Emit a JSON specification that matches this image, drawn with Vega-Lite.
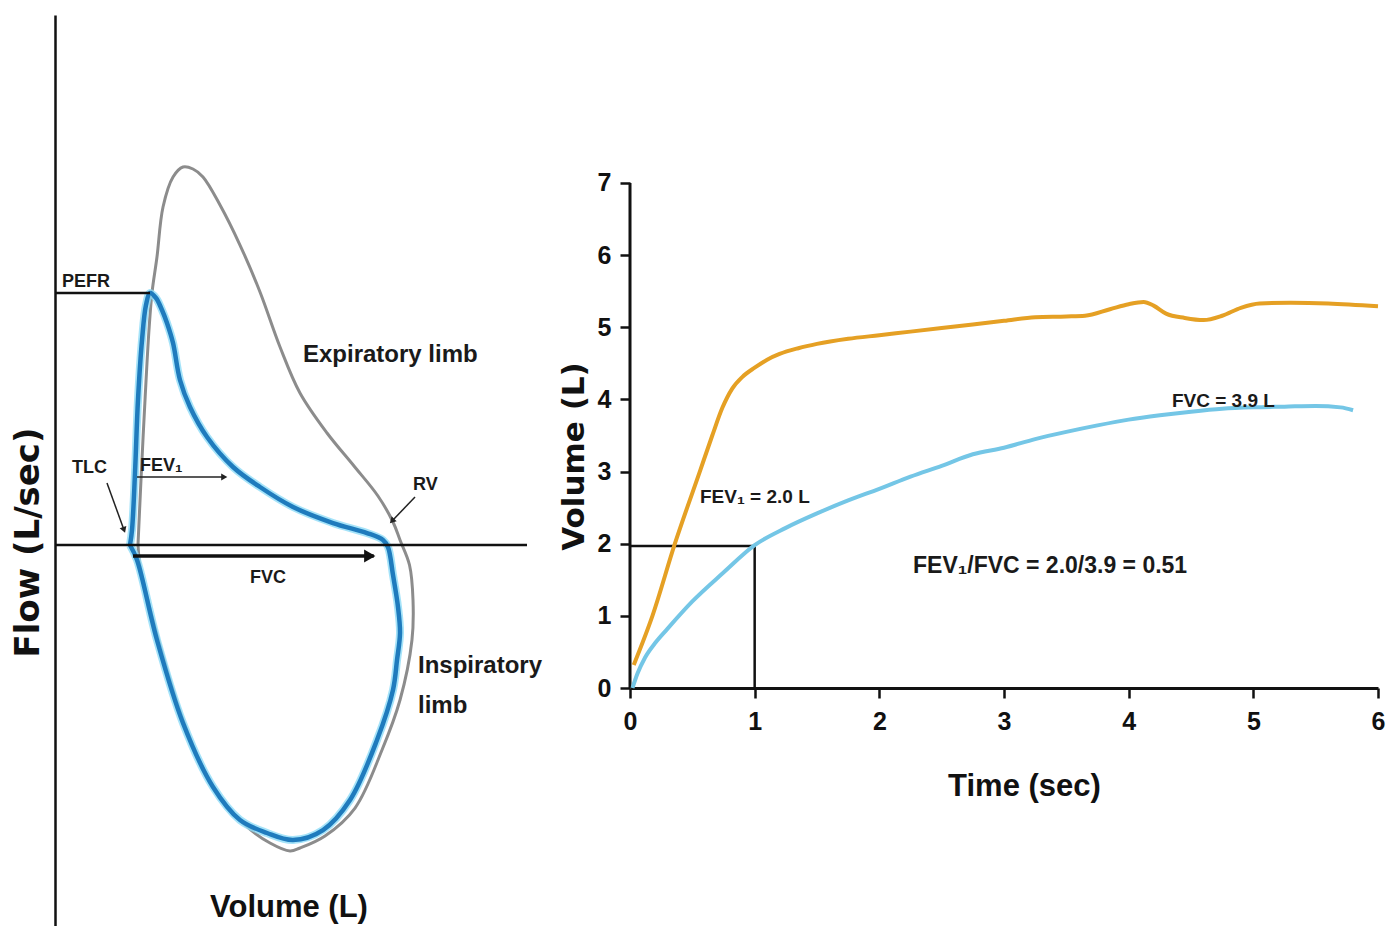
{
  "$schema": "https://vega.github.io/schema/vega-lite/v6.json",
  "background": "white",
  "padding": {"left": 0, "top": 15, "right": 0, "bottom": 0},
  "bounds": "flush",
  "spacing": 103,
  "config": {"view": {"stroke": null}},
  "datasets": {
    "loopNormal": [
      {"i": 1, "vol": 0.123, "flow": 0},
      {"i": 2, "vol": 0.169, "flow": 1.806},
      {"i": 3, "vol": 0.231, "flow": 4.028},
      {"i": 4, "vol": 0.292, "flow": 5.972},
      {"i": 5, "vol": 0.338, "flow": 7.0},
      {"i": 6, "vol": 0.415, "flow": 8.0},
      {"i": 7, "vol": 0.508, "flow": 9.389},
      {"i": 8, "vol": 0.662, "flow": 10.222},
      {"i": 9, "vol": 0.815, "flow": 10.5},
      {"i": 10, "vol": 0.969, "flow": 10.444},
      {"i": 11, "vol": 1.123, "flow": 10.222},
      {"i": 12, "vol": 1.385, "flow": 9.444},
      {"i": 13, "vol": 1.692, "flow": 8.333},
      {"i": 14, "vol": 2.0, "flow": 7.028},
      {"i": 15, "vol": 2.308, "flow": 5.5},
      {"i": 16, "vol": 2.615, "flow": 4.222},
      {"i": 17, "vol": 3.031, "flow": 3.111},
      {"i": 18, "vol": 3.446, "flow": 2.194},
      {"i": 19, "vol": 3.815, "flow": 1.361},
      {"i": 20, "vol": 4.046, "flow": 0.639},
      {"i": 21, "vol": 4.154, "flow": 0.139},
      {"i": 22, "vol": 4.3, "flow": -0.556},
      {"i": 23, "vol": 4.354, "flow": -1.528},
      {"i": 24, "vol": 4.338, "flow": -2.639},
      {"i": 25, "vol": 4.154, "flow": -4.306},
      {"i": 26, "vol": 3.877, "flow": -5.694},
      {"i": 27, "vol": 3.462, "flow": -7.306},
      {"i": 28, "vol": 3.0, "flow": -8.083},
      {"i": 29, "vol": 2.615, "flow": -8.417},
      {"i": 30, "vol": 2.462, "flow": -8.5},
      {"i": 31, "vol": 2.154, "flow": -8.278},
      {"i": 32, "vol": 1.769, "flow": -7.778},
      {"i": 33, "vol": 1.308, "flow": -6.806},
      {"i": 34, "vol": 0.846, "flow": -5.0},
      {"i": 35, "vol": 0.462, "flow": -2.778},
      {"i": 36, "vol": 0.154, "flow": -0.556},
      {"i": 37, "vol": 0.123, "flow": 0}
    ],
    "loopObstructed": [
      {"i": 1, "vol": 0, "flow": 0},
      {"i": 2, "vol": 0.031, "flow": 0.417},
      {"i": 3, "vol": 0.077, "flow": 2.0},
      {"i": 4, "vol": 0.123, "flow": 4.028},
      {"i": 5, "vol": 0.185, "flow": 5.694},
      {"i": 6, "vol": 0.246, "flow": 6.667},
      {"i": 7, "vol": 0.308, "flow": 7.0},
      {"i": 8, "vol": 0.4, "flow": 6.861},
      {"i": 9, "vol": 0.492, "flow": 6.528},
      {"i": 10, "vol": 0.569, "flow": 6.167},
      {"i": 11, "vol": 0.662, "flow": 5.611},
      {"i": 12, "vol": 0.769, "flow": 4.583},
      {"i": 13, "vol": 0.923, "flow": 3.833},
      {"i": 14, "vol": 1.185, "flow": 3.0},
      {"i": 15, "vol": 1.585, "flow": 2.167},
      {"i": 16, "vol": 2.0, "flow": 1.611},
      {"i": 17, "vol": 2.508, "flow": 1.056},
      {"i": 18, "vol": 3.123, "flow": 0.611},
      {"i": 19, "vol": 3.646, "flow": 0.333},
      {"i": 20, "vol": 3.892, "flow": 0.139},
      {"i": 21, "vol": 3.969, "flow": -0.056},
      {"i": 22, "vol": 4.046, "flow": -0.833},
      {"i": 23, "vol": 4.123, "flow": -1.722},
      {"i": 24, "vol": 4.154, "flow": -2.444},
      {"i": 25, "vol": 4.108, "flow": -3.194},
      {"i": 26, "vol": 4.046, "flow": -4.028},
      {"i": 27, "vol": 3.8, "flow": -5.417},
      {"i": 28, "vol": 3.385, "flow": -7.083},
      {"i": 29, "vol": 2.969, "flow": -7.917},
      {"i": 30, "vol": 2.508, "flow": -8.194},
      {"i": 31, "vol": 2.108, "flow": -8.0},
      {"i": 32, "vol": 1.692, "flow": -7.639},
      {"i": 33, "vol": 1.277, "flow": -6.722},
      {"i": 34, "vol": 0.815, "flow": -4.944},
      {"i": 35, "vol": 0.415, "flow": -2.639},
      {"i": 36, "vol": 0.108, "flow": -0.417},
      {"i": 37, "vol": 0, "flow": 0}
    ],
    "thickLines": [
      {"what": "zero flow", "vol": -1.1538, "flow": 0, "vol2": 6.1077, "flow2": 0},
      {"what": "PEFR", "vol": -1.1538, "flow": 7.0, "vol2": 0.308, "flow2": 7.0}
    ],
    "thinArrows": [
      {"what": "TLC", "vol": -0.354, "flow": 1.722, "vol2": -0.092, "flow2": 0.417},
      {"what": "FEV1", "vol": 0.108, "flow": 1.889, "vol2": 1.45, "flow2": 1.889},
      {"what": "RV", "vol": 4.385, "flow": 1.333, "vol2": 4.031, "flow2": 0.667}
    ],
    "fvcArrow": [
      {"what": "FVC", "vol": 0.046, "flow": -0.306, "vol2": 3.75, "flow2": -0.306}
    ],
    "textsSmallA": [
      {"label": "PEFR", "vol": -1.0462, "flow": 7.1667},
      {"label": "TLC", "vol": -0.8923, "flow": 2.0},
      {"label": "FEV₁", "vol": 0.1538, "flow": 2.0556},
      {"label": "RV", "vol": 4.3538, "flow": 1.5278},
      {"label": "FVC", "vol": 1.8462, "flow": -1.0556}
    ],
    "textsLargeA": [
      {"label": "Expiratory limb", "vol": 2.6615, "flow": 5.0833},
      {"label": "Inspiratory", "vol": 4.4308, "flow": -3.5556},
      {"label": "limb", "vol": 4.4308, "flow": -4.6667}
    ],
    "timeNormal": [
      {"t": 0.03, "v": 0.32}, {"t": 0.18, "v": 1.0}, {"t": 0.36, "v": 2.0},
      {"t": 0.56, "v": 3.0}, {"t": 0.66, "v": 3.5}, {"t": 0.74, "v": 3.88},
      {"t": 0.82, "v": 4.15}, {"t": 0.9, "v": 4.31},
      {"t": 1.0, "v": 4.44}, {"t": 1.1, "v": 4.55}, {"t": 1.2, "v": 4.63},
      {"t": 1.35, "v": 4.71}, {"t": 1.5, "v": 4.77}, {"t": 1.75, "v": 4.84},
      {"t": 2.0, "v": 4.89}, {"t": 2.25, "v": 4.94}, {"t": 2.5, "v": 4.99},
      {"t": 2.75, "v": 5.04}, {"t": 3.0, "v": 5.09}, {"t": 3.25, "v": 5.14},
      {"t": 3.5, "v": 5.15}, {"t": 3.65, "v": 5.16}, {"t": 3.85, "v": 5.25},
      {"t": 4.0, "v": 5.32}, {"t": 4.12, "v": 5.35}, {"t": 4.2, "v": 5.3},
      {"t": 4.3, "v": 5.19}, {"t": 4.45, "v": 5.13}, {"t": 4.6, "v": 5.1},
      {"t": 4.75, "v": 5.16}, {"t": 4.9, "v": 5.27}, {"t": 5.05, "v": 5.33},
      {"t": 5.3, "v": 5.34}, {"t": 5.6, "v": 5.33}, {"t": 6.0, "v": 5.29}
    ],
    "timeObstructed": [
      {"t": 0.02, "v": 0.0}, {"t": 0.06, "v": 0.2}, {"t": 0.12, "v": 0.42},
      {"t": 0.2, "v": 0.62}, {"t": 0.3, "v": 0.82},
      {"t": 0.5, "v": 1.2}, {"t": 0.75, "v": 1.6}, {"t": 1.0, "v": 1.98},
      {"t": 1.25, "v": 2.22}, {"t": 1.5, "v": 2.42}, {"t": 1.75, "v": 2.6},
      {"t": 2.0, "v": 2.76}, {"t": 2.25, "v": 2.93}, {"t": 2.5, "v": 3.08},
      {"t": 2.75, "v": 3.24}, {"t": 3.0, "v": 3.33}, {"t": 3.25, "v": 3.45},
      {"t": 3.5, "v": 3.55}, {"t": 3.75, "v": 3.64}, {"t": 4.0, "v": 3.72},
      {"t": 4.25, "v": 3.78}, {"t": 4.5, "v": 3.83}, {"t": 4.75, "v": 3.87},
      {"t": 5.0, "v": 3.89}, {"t": 5.25, "v": 3.9}, {"t": 5.5, "v": 3.91},
      {"t": 5.7, "v": 3.89}, {"t": 5.8, "v": 3.85}
    ],
    "fevLines": [
      {"t": 0, "v": 1.968, "t2": 1, "v2": 1.968},
      {"t": 1, "v": 0, "t2": 1, "v2": 1.968}
    ],
    "yDomain": [
      {"t": 0, "v": 0, "t2": 0, "v2": 7}
    ],
    "textsSmallB": [
      {"label": "FEV₁ = 2.0 L", "t": 0.5615, "v": 2.564},
      {"label": "FVC = 3.9 L", "t": 4.347, "v": 3.895}
    ],
    "textsLargeB": [
      {"label": "FEV₁/FVC = 2.0/3.9 = 0.51", "t": 2.2701, "v": 1.6}
    ]
  },
  "hconcat": [
    {
      "width": 472,
      "height": 930,
      "encoding": {
        "x": {"field": "vol", "type": "quantitative", "scale": {"domain": [-1.1538, 6.1077], "nice": false, "zero": false}, "axis": null},
        "y": {"field": "flow", "type": "quantitative", "scale": {"domain": [-11.1111, 14.7222], "nice": false, "zero": false},
          "axis": {"title": "Flow (L/sec)", "labels": false, "ticks": false, "grid": false, "domain": true,
            "domainColor": "#111111", "domainWidth": 2.5, "minExtent": 55, "maxExtent": 55,
            "titleFont": "DejaVu Sans", "titleFontSize": 34, "titleFontWeight": "bold", "titleColor": "#111111",
            "titleX": -27, "titleY": 527, "titleAngle": -90, "titleAlign": "center", "titleBaseline": "middle"}}
      },
      "layer": [
        {"data": {"name": "loopNormal"}, "mark": {"type": "line", "interpolate": "catmull-rom", "color": "#8c8c8c", "strokeWidth": 3},
          "encoding": {"order": {"field": "i", "type": "quantitative"}}},
        {"data": {"name": "loopObstructed"}, "mark": {"type": "line", "interpolate": "catmull-rom", "color": "#8fdcf7", "strokeWidth": 8, "opacity": 0.8},
          "encoding": {"order": {"field": "i", "type": "quantitative"}}},
        {"data": {"name": "loopObstructed"}, "mark": {"type": "line", "interpolate": "catmull-rom", "color": "#1f7bbd", "strokeWidth": 4.5},
          "encoding": {"order": {"field": "i", "type": "quantitative"}}},
        {"data": {"name": "thickLines"}, "mark": {"type": "rule", "color": "#111111", "strokeWidth": 2.5},
          "encoding": {"x2": {"field": "vol2"}, "y2": {"field": "flow2"}}},
        {"data": {"name": "thinArrows"}, "mark": {"type": "rule", "color": "#222222", "strokeWidth": 1.5},
          "encoding": {"x2": {"field": "vol2"}, "y2": {"field": "flow2"}}},
        {"data": {"name": "fvcArrow"}, "mark": {"type": "rule", "color": "#111111", "strokeWidth": 3.5},
          "encoding": {"x2": {"field": "vol2"}, "y2": {"field": "flow2"}}},
        {"data": {"name": "fvcArrow"}, "mark": {"type": "point", "shape": "triangle-right", "filled": true, "color": "#111111", "size": 170, "opacity": 1, "xOffset": -4},
          "encoding": {"x": {"field": "vol2", "type": "quantitative"}}},
        {"data": {"name": "thinArrows"}, "transform": [{"filter": "datum.what === 'FEV1'"}],
          "mark": {"type": "point", "shape": "triangle-right", "filled": true, "color": "#222222", "size": 50, "opacity": 1},
          "encoding": {"x": {"field": "vol2", "type": "quantitative"}, "y": {"field": "flow2", "type": "quantitative"}}},
        {"data": {"name": "thinArrows"}, "transform": [{"filter": "datum.what === 'TLC'"}],
          "mark": {"type": "point", "shape": "triangle-right", "filled": true, "color": "#222222", "size": 50, "opacity": 1, "angle": 70},
          "encoding": {"x": {"field": "vol2", "type": "quantitative"}, "y": {"field": "flow2", "type": "quantitative"}}},
        {"data": {"name": "thinArrows"}, "transform": [{"filter": "datum.what === 'RV'"}],
          "mark": {"type": "point", "shape": "triangle-right", "filled": true, "color": "#222222", "size": 50, "opacity": 1, "angle": 134},
          "encoding": {"x": {"field": "vol2", "type": "quantitative"}, "y": {"field": "flow2", "type": "quantitative"}}},
        {"data": {"name": "textsSmallA"}, "mark": {"type": "text", "align": "left", "baseline": "alphabetic", "font": "Liberation Sans", "fontSize": 18, "fontWeight": "bold", "color": "#1a1a1a"},
          "encoding": {"text": {"field": "label"}}},
        {"data": {"name": "textsLargeA"}, "mark": {"type": "text", "align": "left", "baseline": "alphabetic", "font": "Liberation Sans", "fontSize": 24, "fontWeight": "bold", "color": "#1a1a1a"},
          "encoding": {"text": {"field": "label"}}},
        {"data": {"values": [{"label": "Volume (L)", "vol": 2.4462, "flow": -10.3333}]}, "mark": {"type": "text", "align": "center", "baseline": "alphabetic", "font": "Liberation Sans", "fontSize": 31, "fontWeight": "bold", "color": "#111111"},
          "encoding": {"text": {"field": "label"}}}
      ]
    },
    {
      "width": 748,
      "height": 673,
      "encoding": {
        "x": {"field": "t", "type": "quantitative", "scale": {"domain": [0, 6], "nice": false, "zero": false},
          "axis": {"values": [0, 1, 2, 3, 4, 5, 6], "format": "d", "title": "Time (sec)", "grid": false, "labelFlush": false, "labelOverlap": false,
            "domainColor": "#111111", "domainWidth": 3, "tickColor": "#111111", "tickWidth": 2.5, "tickSize": 10,
            "labelFont": "Liberation Sans", "labelFontSize": 25, "labelFontWeight": "bold", "labelColor": "#111111", "labelPadding": 11,
            "titleFont": "Liberation Sans", "titleFontSize": 31, "titleFontWeight": "bold", "titleColor": "#111111",
            "titleX": 394, "titleY": 107, "titleAlign": "center", "titleBaseline": "alphabetic"}},
        "y": {"field": "v", "type": "quantitative", "scale": {"domain": [0, 9.3287], "nice": false, "zero": false},
          "axis": {"values": [0, 1, 2, 3, 4, 5, 6, 7], "format": "d", "title": "Volume (L)", "grid": false, "domain": false, "labelOverlap": false,
            "tickColor": "#111111", "tickWidth": 2.5, "tickSize": 10,
            "labelFont": "Liberation Sans", "labelFontSize": 25, "labelFontWeight": "bold", "labelColor": "#111111", "labelPadding": 9,
            "titleFont": "DejaVu Sans", "titleFontSize": 31, "titleFontWeight": "bold", "titleColor": "#111111",
            "titleX": -56, "titleY": 441, "titleAngle": -90, "titleAlign": "center", "titleBaseline": "middle"}}
      },
      "layer": [
        {"data": {"name": "yDomain"}, "mark": {"type": "rule", "color": "#111111", "strokeWidth": 3},
          "encoding": {"x2": {"field": "t2"}, "y2": {"field": "v2"}}},
        {"data": {"name": "fevLines"}, "mark": {"type": "rule", "color": "#111111", "strokeWidth": 2.5},
          "encoding": {"x2": {"field": "t2"}, "y2": {"field": "v2"}}},
        {"data": {"name": "timeObstructed"}, "mark": {"type": "line", "interpolate": "monotone", "color": "#74c6e6", "strokeWidth": 4}, "encoding": {}},
        {"data": {"name": "timeNormal"}, "mark": {"type": "line", "interpolate": "monotone", "color": "#e5a024", "strokeWidth": 4}, "encoding": {}},
        {"data": {"name": "textsSmallB"}, "mark": {"type": "text", "align": "left", "baseline": "alphabetic", "font": "Liberation Sans", "fontSize": 19, "fontWeight": "bold", "color": "#1a1a1a"},
          "encoding": {"text": {"field": "label"}}},
        {"data": {"name": "textsLargeB"}, "mark": {"type": "text", "align": "left", "baseline": "alphabetic", "font": "Liberation Sans", "fontSize": 23, "fontWeight": "bold", "color": "#1a1a1a"},
          "encoding": {"text": {"field": "label"}}}
      ]
    }
  ]
}
